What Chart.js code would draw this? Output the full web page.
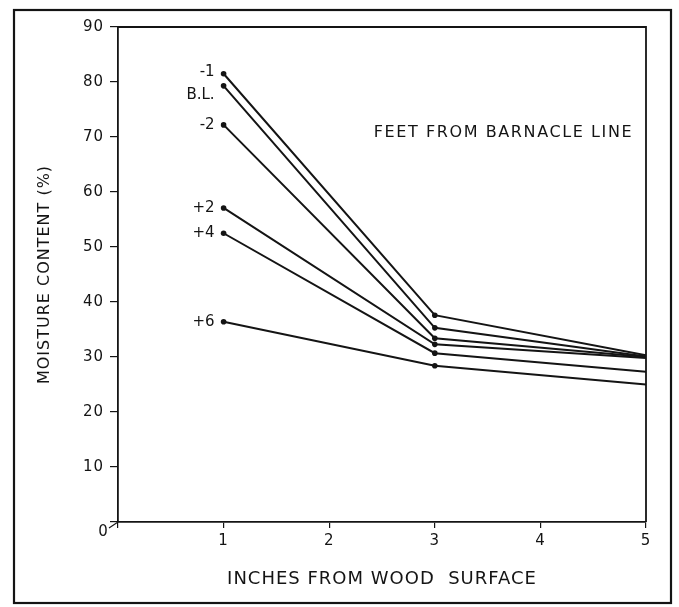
<!DOCTYPE html>
<html>
<head>
<meta charset="utf-8">
<script src="https://cdn.jsdelivr.net/npm/chart.js@4"></script>
<style>
  html, body { margin: 0; padding: 0; background: #fff; }
  #wrap { width: 679px; height: 607px; position: relative; }
</style>
</head>
<body>
<div id="wrap"><canvas id="chart"></canvas></div>
<script>
// depth positions (inches from wood surface)
const depths = [1, 3, 5];

// series names = feet from barnacle line
const seriesNames = ["-1", "B.L.", "-2", "+2", "+4", "+6"];

// moisture content (%)
const minus1 = [81.5, 37.6, 30.3];
const barnacleLine = [79.3, 35.3, 30.1];
const minus2 = [72.2, 33.4, 30.0];
const plus2 = [57.1, 32.3, 29.8];
const plus4 = [52.5, 30.7, 27.3];
const plus6 = [36.4, 28.4, 25.0];

const seriesValues = [minus1, barnacleLine, minus2, plus2, plus4, plus6];

// tick labels
const yTicks = [0, 10, 20, 30, 40, 50, 60, 70, 80, 90];
const xTicks = [0, 1, 2, 3, 4, 5];

//small vertical nudges for the labels beside the first points
const labelNudge = [-2, 9, 0, 0, 0, 0];

const ink = "#141414";
const fontFamily = "'DejaVu Sans', 'Liberation Sans', sans-serif";

/**
 * draws the outer frame, the plot box, the series labels, the note and the lone 0
 */
const paperPlugin = {
  id: "paper",
  beforeDraw: (chart) => {
    const ctx = chart.ctx;
    ctx.save();
    ctx.fillStyle = "#fff";
    ctx.fillRect(0, 0, chart.width, chart.height);
    ctx.restore();
    //the hand lettering is loosely spaced
    ctx.letterSpacing = "1px";
  },
  afterDatasetsDraw: (chart) => {
    const ctx = chart.ctx;
    const area = chart.chartArea;
    const xs = chart.scales.x;
    const ys = chart.scales.y;
    ctx.save();
    ctx.strokeStyle = ink;

    //outer frame of the figure
    ctx.lineWidth = 2.2;
    ctx.strokeRect(14, 10, 657, 593);

    //top and right edges of the plot box
    ctx.lineWidth = 1.8;
    ctx.beginPath();
    ctx.moveTo(area.left, area.top);
    ctx.lineTo(area.right, area.top);
    ctx.lineTo(area.right, area.bottom);
    ctx.stroke();

    //little stroke from the corner to the shared 0
    ctx.lineWidth = 1.2;
    ctx.beginPath();
    ctx.moveTo(area.left, area.bottom);
    ctx.lineTo(area.left - 9, area.bottom + 6);
    ctx.stroke();

    ctx.fillStyle = ink;
    ctx.font = "15px " + fontFamily;
    ctx.textAlign = "center";
    ctx.textBaseline = "middle";
    ctx.letterSpacing = "0px";
    ctx.fillText("0", area.left - 15, area.bottom + 10);

    //series labels beside the first point of each line
    ctx.font = "15px " + fontFamily;
    ctx.textAlign = "right";
    chart.data.datasets.forEach((ds, i) => {
      const pt = chart.getDatasetMeta(i).data[0];
      ctx.fillText(ds.label, pt.x - 9, pt.y + labelNudge[i]);
    });

    //legend-like note
    ctx.font = "16px " + fontFamily;
    ctx.textAlign = "center";
    ctx.letterSpacing = "1.6px";
    ctx.fillText("FEET FROM BARNACLE LINE", xs.getPixelForValue(3.65), ys.getPixelForValue(70.7));
    ctx.restore();
  },
};

const datasets = seriesNames.map((name, i) => ({
  label: name,
  data: depths.map((d, j) => ({ x: d, y: seriesValues[i][j] })),
  borderColor: ink,
  backgroundColor: ink,
  borderWidth: 2,
  pointRadius: [2.8, 2.8, 0],
  pointBorderWidth: 0,
  pointHoverRadius: 0,
  tension: 0,
  fill: false,
}));

new Chart(document.getElementById("chart"), {
  type: "line",
  data: { datasets: datasets },
  plugins: [paperPlugin],
  options: {
    responsive: true,
    maintainAspectRatio: false,
    animation: false,
    events: [],
    layout: { padding: { left: 0, top: 27, right: 33, bottom: 0 } },
    plugins: {
      legend: { display: false },
      tooltip: { enabled: false },
    },
    scales: {
      x: {
        type: "linear",
        min: 0,
        max: 5,
        afterBuildTicks: (scale) => {
          scale.ticks = xTicks.map((v) => ({ value: v }));
        },
        afterFit: (scale) => {
          scale.height = 85;
        },
        grid: {
          drawOnChartArea: false,
          tickLength: 6,
          color: ink,
          lineWidth: 1.2,
        },
        border: { display: true, color: ink, width: 1.8 },
        ticks: {
          color: ink,
          padding: 4,
          maxRotation: 0,
          font: { family: fontFamily, size: 15 },
          callback: (v) => (v === 0 ? "" : String(v)),
        },
        title: {
          display: true,
          text: "INCHES FROM WOOD  SURFACE",
          color: ink,
          font: { family: fontFamily, size: 18 },
          padding: { top: 0, bottom: 17 },
        },
      },
      y: {
        type: "linear",
        min: 0,
        max: 90,
        afterBuildTicks: (scale) => {
          scale.ticks = yTicks.map((v) => ({ value: v }));
        },
        afterFit: (scale) => {
          scale.width = 118;
        },
        grid: {
          drawOnChartArea: false,
          tickLength: 8,
          color: ink,
          lineWidth: 1.2,
        },
        border: { display: true, color: ink, width: 1.8 },
        ticks: {
          color: ink,
          padding: 6,
          font: { family: fontFamily, size: 15 },
          callback: (v) => (v === 0 ? "" : String(v)),
        },
        title: {
          display: true,
          text: "MOISTURE CONTENT (%)",
          color: ink,
          font: { family: fontFamily, size: 16 },
          padding: { top: 35, bottom: 0 },
        },
      },
    },
  },
});
</script>
</body>
</html>
